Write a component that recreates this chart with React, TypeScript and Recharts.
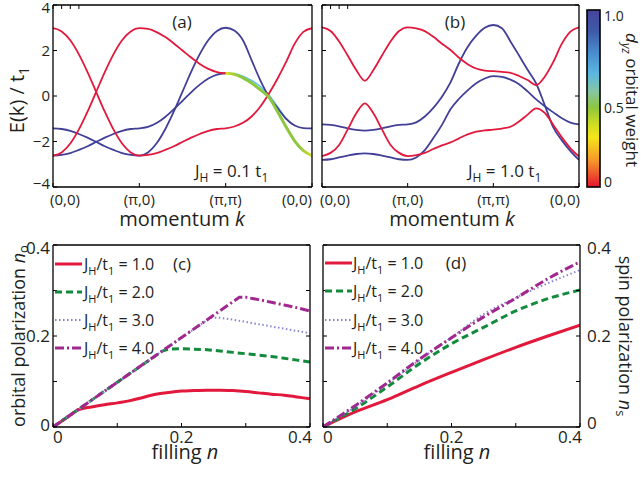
import React from "react";
import { LineChart, Line, XAxis, YAxis } from "recharts";

const FONT = "'Open Sans', 'DejaVu Sans', sans-serif";
const INK = "#231f20";
const RED = "#e2183c";
const BLUE = "#423f97";
const GREEN = "#138a3c";
const LILAC = "#8a86d2";
const MAGENTA = "#a1288f";
const N = null;

// momentum path (0,0) -> (pi,0) -> (pi,pi) -> (0,0), one unit per segment
const kPath = [0, 0.1, 0.2, 0.3, 0.4, 0.5, 0.6, 0.7, 0.8, 0.9, 1, 1.1, 1.2, 1.3, 1.4, 1.5, 1.6, 1.7, 1.8, 1.9, 2, 2.1, 2.2, 2.3, 2.4, 2.5, 2.6, 2.7, 2.8, 2.9, 3];
const kTicks = [0, 1, 2, 3];
const kTickLabels = ["(0,0)", "(π,0)", "(π,π)", "(0,0)"];
const eTicks = [-4, -2, 0, 2, 4];

// panel (a), J_H = 0.1 t1
const aRedA = [2.98, 2.84, 2.45, 1.83, 1.05, 0.18, -0.69, -1.47, -2.09, -2.48, -2.62, -2.59, -2.51, -2.37, -2.21, -2.02, -1.83, -1.67, -1.53, -1.45, -1.42, -1.34, -1.18, -0.9, -0.47, 0.1, 0.76, 1.5, 2.3, 2.82, 2.98];
const aRedB = [-2.62, -2.48, -2.09, -1.47, -0.69, 0.18, 1.05, 1.83, 2.45, 2.84, 2.98, 2.95, 2.81, 2.59, 2.31, 2.0, 1.69, 1.41, 1.19, 1.05, 1.0, N, N, N, N, N, N, N, N, N, N];
const aBlueA = [-1.42, -1.45, -1.53, -1.67, -1.83, -2.02, -2.21, -2.37, -2.51, -2.59, -2.62, -2.48, -2.08, -1.46, -0.68, 0.19, 1.06, 1.84, 2.46, 2.86, 3.0, 2.88, 2.45, 1.58, 0.7, -0.02, -0.52, -1.0, -1.3, -1.41, -1.42];
const aBlueB = [-2.62, -2.59, -2.51, -2.37, -2.21, -2.02, -1.83, -1.67, -1.53, -1.45, -1.42, -1.36, -1.19, -0.92, -0.58, -0.21, 0.16, 0.5, 0.77, 0.94, 1.0, N, N, N, N, N, N, N, N, N, N];
const aMixed = [N, N, N, N, N, N, N, N, N, N, N, N, N, N, N, N, N, N, N, N, 1.0, 0.96, 0.8, 0.57, 0.28, -0.05, -0.68, -1.36, -1.98, -2.4, -2.62];
const aCyan = [N, N, N, N, N, N, N, N, N, N, N, N, N, N, N, N, N, N, N, N, 1.0, 0.98, 0.87, 0.68, 0.42, 0.04, -0.47, -1.0, N, N, N];

// panel (b), J_H = 1.0 t1
const bRedU = [3.02, 2.86, 2.4, 1.78, 1.14, 0.67, 1.14, 1.78, 2.4, 2.86, 3.02, 2.97, 2.85, 2.6, 2.3, 2.02, 1.68, 1.4, 1.21, 1.12, 1.09, 1.06, 1.02, 0.88, 0.7, 0.48, 0.85, 1.5, 2.3, 2.83, 3.02];
const bRedL = [-2.64, -2.5, -2.15, -1.47, -0.76, -0.32, -0.76, -1.47, -2.15, -2.5, -2.64, -2.6, -2.5, -2.33, -2.17, -2.04, -1.86, -1.69, -1.57, -1.51, -1.48, -1.43, -1.35, -1.12, -0.82, -0.54, -0.74, -1.27, -1.82, -2.3, -2.66];
const bBlueU = [-1.25, -1.27, -1.33, -1.42, -1.49, -1.52, -1.49, -1.42, -1.33, -1.27, -1.25, -1.16, -0.9, -0.52, -0.03, 0.6, 1.45, 2.15, 2.65, 3.0, 3.12, 2.98, 2.4, 1.78, 1.15, 0.55, -0.4, -1.38, -1.95, -2.42, -2.81];
const bBlueL = [-2.81, -2.78, -2.7, -2.62, -2.55, -2.52, -2.55, -2.62, -2.7, -2.78, -2.81, -2.7, -2.38, -1.85, -1.27, -0.58, -0.12, 0.25, 0.56, 0.77, 0.87, 0.84, 0.72, 0.52, 0.2, -0.15, -0.45, -0.72, -0.98, -1.17, -1.25];

// panel (c), orbital polarization vs filling
const fillTicks = [0, 0.1, 0.2, 0.3, 0.4];
const fillLabels = [0, 0.2, 0.4];
const cRedN = [0, 0.02, 0.04, 0.06, 0.08, 0.1, 0.12, 0.14, 0.16, 0.18, 0.2, 0.22, 0.24, 0.26, 0.28, 0.3, 0.32, 0.34, 0.36, 0.38, 0.4];
const cRedV = [0, 0.019, 0.038, 0.044, 0.049, 0.053, 0.058, 0.065, 0.072, 0.076, 0.079, 0.08, 0.081, 0.081, 0.08, 0.078, 0.075, 0.072, 0.07, 0.066, 0.062];
const cGreenN = [0, 0.17, 0.18, 0.2, 0.22, 0.24, 0.26, 0.28, 0.3, 0.32, 0.34, 0.36, 0.38, 0.4];
const cGreenV = [0, 0.167, 0.171, 0.172, 0.171, 0.17, 0.167, 0.164, 0.161, 0.158, 0.155, 0.151, 0.147, 0.143];
const cLilacN = [0, 0.245, 0.26, 0.28, 0.3, 0.32, 0.34, 0.36, 0.38, 0.4];
const cLilacV = [0, 0.24, 0.24, 0.236, 0.231, 0.226, 0.221, 0.216, 0.211, 0.206];
const cMagN = [0, 0.29, 0.3, 0.32, 0.34, 0.36, 0.38, 0.4];
const cMagV = [0, 0.285, 0.285, 0.28, 0.274, 0.268, 0.262, 0.255];

// panel (d), spin polarization vs filling
const dN = [0, 0.05, 0.1, 0.15, 0.2, 0.25, 0.3, 0.35, 0.4];
const dRedV = [0, 0.033, 0.06, 0.091, 0.12, 0.148, 0.175, 0.2, 0.224];
const dGreenV = [0, 0.04, 0.088, 0.139, 0.183, 0.219, 0.255, 0.282, 0.301];
const dLilacV = [0, 0.044, 0.095, 0.147, 0.197, 0.248, 0.284, 0.316, 0.345];
const dMagV = [0, 0.047, 0.097, 0.149, 0.196, 0.242, 0.283, 0.326, 0.363];

const legendValues = ["1.0", "2.0", "3.0", "4.0"];
const colorbarLabels = ["1.0", "0.5", "0"];

const bandRowsA = kPath.map((k, i) => ({ k, redA: aRedA[i], redB: aRedB[i], blueA: aBlueA[i], blueB: aBlueB[i], mixed: aMixed[i], cyan: aCyan[i] }));
const bandRowsB = kPath.map((k, i) => ({ k, redU: bRedU[i], redL: bRedL[i], blueU: bBlueU[i], blueL: bBlueL[i] }));
const pairs = (ns: number[], vs: number[]) => ns.map((n, i) => ({ n, v: vs[i] }));

const numText = (v: number) => (v < 0 ? "−" + Math.abs(v) : String(v));

function tickRenderer(o: {
  side: "bottom" | "left" | "right" | "none";
  fs?: number;
  text?: (v: number) => string;
  first?: number;
  last?: number;
  firstDx?: number;
  lastDx?: number;
  topDy?: number;
  bottomDy?: number;
}) {
  return (p: any) => {
    const v: number = p.payload.value;
    const s = o.side === "none" || !o.text ? "" : o.text(v);
    if (!s) return <g />;
    const fs = o.fs ?? 15;
    if (o.side === "bottom") {
      let anchor = "middle";
      let dx = 0;
      if (v === o.first) {
        anchor = "start";
        dx = o.firstDx ?? 0;
      } else if (v === o.last) {
        anchor = "end";
        dx = o.lastDx ?? 0;
      }
      return (
        <text x={p.x + dx} y={p.y + fs * 0.72} textAnchor={anchor} fontSize={fs} fontFamily={FONT} fill={INK}>
          {s}
        </text>
      );
    }
    let dy = 0;
    if (v === o.last) dy = o.topDy ?? 0;
    if (v === o.first) dy = o.bottomDy ?? 0;
    return (
      <text x={p.x} y={p.y + fs * 0.36 + dy} textAnchor={o.side === "left" ? "end" : "start"} fontSize={fs} fontFamily={FONT} fill={INK}>
        {s}
      </text>
    );
  };
}

const blank = tickRenderer({ side: "none" });

function frameAxes(c: {
  xKey: string;
  xDomain: [number, number];
  xTicks: number[];
  yDomain: [number, number];
  yTicks: number[];
  bottomTick: any;
  bottomH: number;
  bottomMargin: number;
  leftTick: any;
  leftW: number;
  leftMargin: number;
  rightTick: any;
  rightMargin: number;
}) {
  const axisLine = { stroke: "#000", strokeWidth: 1.3 };
  const tickLine = { stroke: "#000", strokeWidth: 1 };
  return [
    <XAxis key="xb" xAxisId="b" dataKey={c.xKey} type="number" domain={c.xDomain} ticks={c.xTicks} allowDataOverflow
      height={c.bottomH} tickSize={-4} tickMargin={c.bottomMargin} axisLine={axisLine} tickLine={tickLine} tick={c.bottomTick} interval={0} />,
    <XAxis key="xt" xAxisId="t" orientation="top" type="number" domain={c.xDomain} ticks={c.xTicks} allowDataOverflow
      height={1} tickSize={-4} axisLine={axisLine} tickLine={tickLine} tick={blank} interval={0} />,
    <YAxis key="yl" yAxisId="l" type="number" domain={c.yDomain} ticks={c.yTicks} allowDataOverflow
      width={c.leftW} tickSize={-4} tickMargin={c.leftMargin} axisLine={axisLine} tickLine={tickLine} tick={c.leftTick} interval={0} />,
    <YAxis key="yr" yAxisId="r" orientation="right" type="number" domain={c.yDomain} ticks={c.yTicks} allowDataOverflow
      width={1} tickSize={-4} tickMargin={c.rightMargin} axisLine={axisLine} tickLine={tickLine} tick={c.rightTick} interval={0} />,
  ];
}

function band(key: string, color: string, width = 1.8) {
  return (
    <Line key={key} xAxisId="b" yAxisId="l" type="monotone" dataKey={key} stroke={color} strokeWidth={width}
      dot={false} activeDot={false} isAnimationActive={false} connectNulls={false} />
  );
}

function fillLine(key: string, rows: { n: number; v: number }[], color: string, width: number, dash?: string, curve: any = "monotone") {
  return (
    <Line key={key} xAxisId="b" yAxisId="l" data={rows} type={curve} dataKey="v" stroke={color} strokeWidth={width}
      strokeDasharray={dash} dot={false} activeDot={false} isAnimationActive={false} />
  );
}

const fillText = (v: number) => (fillLabels.includes(v) ? String(v) : "");
const kText = (v: number) => kTickLabels[kTicks.indexOf(v)] ?? "";

const DASH_GREEN = "7 4";
const DASH_LILAC = "1.5 2.5";
const DASH_MAG = "9 3 2 3";

function LegendRow(props: { x0: number; x1: number; tx: number; y: number; color: string; w: number; dash?: string; value: string }) {
  const { x0, x1, tx, y, color, w, dash, value } = props;
  return (
    <g>
      <line x1={x0} x2={x1} y1={y} y2={y} stroke={color} strokeWidth={w} strokeDasharray={dash} />
      <text x={tx} y={y + 6} fontSize={16} fontFamily={FONT} fill={INK}>
        J<tspan dy={5} fontSize={11}>H</tspan>
        <tspan dy={-5}>/t</tspan>
        <tspan dy={5} fontSize={11}>1</tspan>
        <tspan dy={-5}>{" = " + value}</tspan>
      </text>
    </g>
  );
}

const legendStyles = [
  { color: RED, w: 3, dash: undefined },
  { color: GREEN, w: 3, dash: DASH_GREEN },
  { color: LILAC, w: 2, dash: DASH_LILAC },
  { color: MAGENTA, w: 3, dash: DASH_MAG },
];

function Overlay() {
  const rowsC = [264, 292, 320, 348];
  const rowsD = [263, 291, 320, 348];
  const cbY = [21, 113, 187];
  return (
    <svg width={643} height={478} style={{ position: "absolute", left: 0, top: 0, pointerEvents: "none" }}>
      <defs>
        <linearGradient id="mixGrad" x1="0" y1="0" x2="1" y2="0">
          <stop offset="0" stopColor="#e9e01b" />
          <stop offset="0.07" stopColor="#a9d13a" />
          <stop offset="0.2" stopColor="#8dc63f" />
          <stop offset="0.85" stopColor="#8dc63f" />
          <stop offset="0.95" stopColor="#bcd631" />
          <stop offset="1" stopColor="#e9e01b" />
        </linearGradient>
        <linearGradient id="cbGrad" x1="0" y1="0" x2="0" y2="1">
          <stop offset="0" stopColor="#45449b" />
          <stop offset="0.12" stopColor="#3f5aa9" />
          <stop offset="0.25" stopColor="#4a8fd0" />
          <stop offset="0.36" stopColor="#5bb8e0" />
          <stop offset="0.46" stopColor="#86c6a4" />
          <stop offset="0.55" stopColor="#8dc63f" />
          <stop offset="0.65" stopColor="#d2de22" />
          <stop offset="0.72" stopColor="#f5e51b" />
          <stop offset="0.85" stopColor="#f5982a" />
          <stop offset="1" stopColor="#e5152f" />
        </linearGradient>
      </defs>
      <g fontFamily={FONT} fill={INK}>
        <text transform="translate(24,100) rotate(-90)" textAnchor="middle" fontSize={20}>
          E(k) / t<tspan dy={5} fontSize={14}>1</tspan>
        </text>
        <text x={182} y={226} textAnchor="middle" fontSize={20}>
          momentum <tspan fontStyle="italic">k</tspan>
        </text>
        <text x={452} y={226} textAnchor="middle" fontSize={20}>
          momentum <tspan fontStyle="italic">k</tspan>
        </text>
        <text x={182} y={28} textAnchor="middle" fontSize={17}>(a)</text>
        <text x={455} y={28} textAnchor="middle" fontSize={17}>(b)</text>
        <text x={195} y={177} fontSize={17}>
          J<tspan dy={5} fontSize={12}>H</tspan>
          <tspan dy={-5}>{" = 0.1 t"}</tspan>
          <tspan dy={5} fontSize={12}>1</tspan>
        </text>
        <text x={468} y={177} fontSize={17}>
          J<tspan dy={5} fontSize={12}>H</tspan>
          <tspan dy={-5}>{" = 1.0 t"}</tspan>
          <tspan dy={5} fontSize={12}>1</tspan>
        </text>

        <rect x={587} y={10} width={13} height={177} fill="url(#cbGrad)" stroke="#000" strokeWidth={1.6} />
        {colorbarLabels.map((s, i) => (
          <text key={s} x={604} y={cbY[i]} fontSize={14}>{s}</text>
        ))}
        <text transform="translate(626,100) rotate(90)" textAnchor="middle" fontSize={17}>
          <tspan fontStyle="italic">d</tspan>
          <tspan dy={4} fontSize={12} fontStyle="italic">yz</tspan>
          <tspan dy={-4}>{" orbital weight"}</tspan>
        </text>

        <text x={182} y={270} textAnchor="middle" fontSize={17}>(c)</text>
        <text x={456} y={269} textAnchor="middle" fontSize={17}>(d)</text>
        <text transform="translate(25,336) rotate(-90)" textAnchor="middle" fontSize={18}>
          orbital polarization <tspan fontStyle="italic">n</tspan>
          <tspan dy={3} fontSize={13}>o</tspan>
        </text>
        <text transform="translate(619,336) rotate(90)" textAnchor="middle" fontSize={18}>
          spin polarization <tspan fontStyle="italic">n</tspan>
          <tspan dy={3} fontSize={13}>s</tspan>
        </text>
        <text x={185} y={459} textAnchor="middle" fontSize={20}>
          filling <tspan fontStyle="italic">n</tspan>
        </text>
        <text x={457} y={459} textAnchor="middle" fontSize={20}>
          filling <tspan fontStyle="italic">n</tspan>
        </text>
      </g>
      {legendValues.map((v, i) => (
        <LegendRow key={"c" + v} x0={55} x1={82} tx={84} y={rowsC[i]} value={v} {...legendStyles[i]} />
      ))}
      {legendValues.map((v, i) => (
        <LegendRow key={"d" + v} x0={325} x1={352} tx={353} y={rowsD[i]} value={v} {...legendStyles[i]} />
      ))}
    </svg>
  );
}

export default function App() {
  return (
    <div style={{ position: "absolute", left: 0, top: 0, width: 643, height: 478, background: "#fff", overflow: "hidden" }}>
      <div style={{ position: "absolute", left: 0, top: 0 }}>
        <LineChart width={320} height={240} data={bandRowsA} margin={{ top: 4, right: 7, bottom: 0, left: 0 }}>
          {frameAxes({
            xKey: "k", xDomain: [0, 3], xTicks: kTicks, yDomain: [-4, 4], yTicks: eTicks,
            bottomTick: tickRenderer({ side: "bottom", fs: 15, text: kText, first: 0, last: 3, firstDx: -3, lastDx: 0 }),
            bottomH: 53, bottomMargin: 11,
            leftTick: tickRenderer({ side: "left", fs: 15, text: numText, first: -4, last: 4, topDy: 3, bottomDy: -3 }),
            leftW: 53, leftMargin: 7, rightTick: blank, rightMargin: 0,
          })}
          {band("cyan", "#62c4e6", 1.6)}
          {band("blueB", BLUE)}
          {band("blueA", BLUE)}
          {band("redB", RED)}
          {band("redA", RED)}
          {band("mixed", "url(#mixGrad)", 3)}
        </LineChart>
      </div>
      <div style={{ position: "absolute", left: 318, top: 0 }}>
        <LineChart width={270} height={240} data={bandRowsB} margin={{ top: 4, right: 8, bottom: 0, left: 0 }}>
          {frameAxes({
            xKey: "k", xDomain: [0, 3], xTicks: kTicks, yDomain: [-4, 4], yTicks: eTicks,
            bottomTick: tickRenderer({ side: "bottom", fs: 15, text: kText, first: 0, last: 3, firstDx: -2, lastDx: 1 }),
            bottomH: 53, bottomMargin: 11,
            leftTick: blank, leftW: 4, leftMargin: 0, rightTick: blank, rightMargin: 0,
          })}
          {band("blueL", BLUE)}
          {band("blueU", BLUE)}
          {band("redL", RED)}
          {band("redU", RED)}
        </LineChart>
      </div>
      <div style={{ position: "absolute", left: 0, top: 240 }}>
        <LineChart width={320} height={238} margin={{ top: 4, right: 9, bottom: 0, left: 0 }}>
          {frameAxes({
            xKey: "n", xDomain: [0, 0.4], xTicks: fillTicks, yDomain: [0, 0.4], yTicks: fillTicks,
            bottomTick: tickRenderer({ side: "bottom", fs: 17, text: fillText, first: 0, last: 0.4, firstDx: 0, lastDx: 2 }),
            bottomH: 51, bottomMargin: 8,
            leftTick: tickRenderer({ side: "left", fs: 17, text: fillText, first: 0, last: 0.4, topDy: 3, bottomDy: -2 }),
            leftW: 53, leftMargin: 7, rightTick: blank, rightMargin: 0,
          })}
          {fillLine("red", pairs(cRedN, cRedV), RED, 3)}
          {fillLine("green", pairs(cGreenN, cGreenV), GREEN, 3, DASH_GREEN, "linear")}
          {fillLine("lilac", pairs(cLilacN, cLilacV), LILAC, 2, DASH_LILAC, "linear")}
          {fillLine("mag", pairs(cMagN, cMagV), MAGENTA, 3, DASH_MAG, "linear")}
        </LineChart>
      </div>
      <div style={{ position: "absolute", left: 318, top: 240 }}>
        <LineChart width={325} height={238} margin={{ top: 4, right: 62, bottom: 0, left: 0 }}>
          {frameAxes({
            xKey: "n", xDomain: [0, 0.4], xTicks: fillTicks, yDomain: [0, 0.4], yTicks: fillTicks,
            bottomTick: tickRenderer({ side: "bottom", fs: 17, text: fillText, first: 0, last: 0.4, firstDx: 0, lastDx: 2 }),
            bottomH: 51, bottomMargin: 8,
            leftTick: blank, leftW: 5, leftMargin: 0,
            rightTick: tickRenderer({ side: "right", fs: 17, text: fillText, first: 0, last: 0.4, topDy: 3, bottomDy: -4 }),
            rightMargin: 11,
          })}
          {fillLine("red", pairs(dN, dRedV), RED, 3)}
          {fillLine("green", pairs(dN, dGreenV), GREEN, 3, DASH_GREEN)}
          {fillLine("lilac", pairs(dN, dLilacV), LILAC, 2, DASH_LILAC)}
          {fillLine("mag", pairs(dN, dMagV), MAGENTA, 3, DASH_MAG)}
        </LineChart>
      </div>
      <Overlay />
    </div>
  );
}
